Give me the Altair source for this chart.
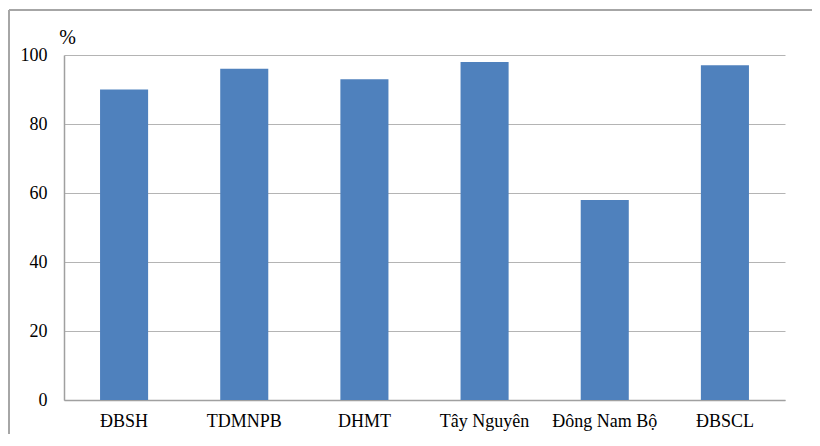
import altair as alt
import pandas as pd

regions = ["ĐBSH", "TDMNPB", "DHMT", "Tây Nguyên", "Đông Nam Bộ", "ĐBSCL"]
values = [90, 96, 93, 98, 58, 97]
y_ticks = [0, 20, 40, 60, 80, 100]

df = pd.DataFrame({"region": regions, "value": values})

W, H = 721, 345
FONT = "Liberation Serif"

bars = alt.Chart(df).mark_bar(color="#4F81BD").encode(
    x=alt.X("region:N", sort=regions,
            scale=alt.Scale(paddingInner=0.6, paddingOuter=0.3),
            axis=alt.Axis(title=None, labelAngle=0, ticks=False, domain=True,
                          domainColor="#a0a0a0", domainWidth=1.5,
                          labelFont=FONT, labelFontSize=18, labelColor="#000",
                          labelPadding=12)),
    y=alt.Y("value:Q", scale=alt.Scale(domain=[0, 100]),
            axis=alt.Axis(values=y_ticks, title="%", titleAngle=0, titleX=3, titleY=-12,
                          titleAlign="center", titleBaseline="alphabetic",
                          titleFont=FONT, titleFontSize=20, titleFontWeight="normal",
                          titleColor="#000",
                          ticks=False, domain=True, domainColor="#a0a0a0", domainWidth=1.5,
                          gridColor="#b4b4b4", gridWidth=1,
                          labelFont=FONT, labelFontSize=18, labelColor="#000",
                          labelPadding=17)),
)

top_edge = alt.Chart(df).mark_rule(stroke="#a6a6a6", strokeWidth=1.5, clip=False).encode(
    x=alt.value(-55), x2=alt.value(W + 100), y=alt.value(-45)
)
left_edge = alt.Chart(df).mark_rule(stroke="#a6a6a6", strokeWidth=1.5, clip=False).encode(
    x=alt.value(-55), y=alt.value(-45), y2=alt.value(H + 100)
)

chart = alt.layer(top_edge, left_edge, bars).properties(
    width=W, height=H,
    autosize=alt.AutoSizeParams(type="none"),
    padding={"left": 56, "top": 47, "right": 27, "bottom": 34},
).configure(font=FONT).configure_view(stroke=None)

chart.save("out.html", embed_options={"renderer": "svg", "actions": False})
